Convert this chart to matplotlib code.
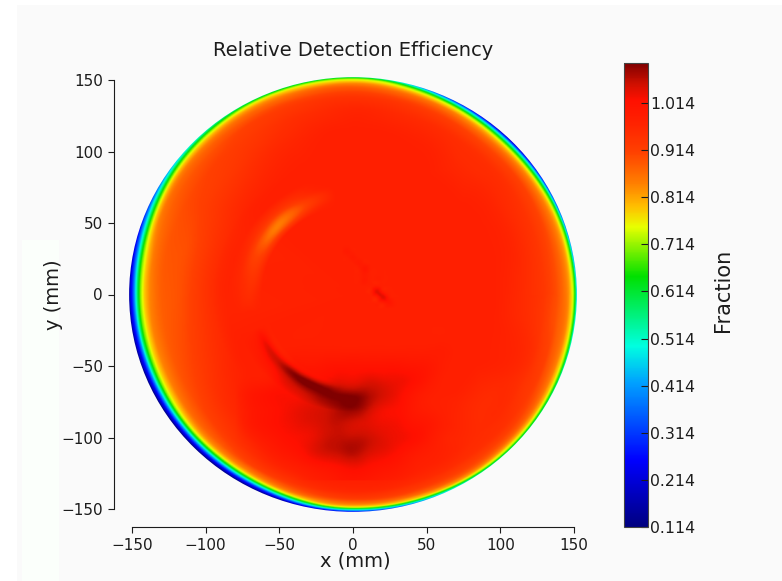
#---------------------------------------------------------------
#  relative detection efficiency map
#---------------------------------------------------------------
import numpy as np
import matplotlib
matplotlib.use("Agg")
import matplotlib.pyplot as plt
import matplotlib.tri as mtri
from matplotlib.cm import ScalarMappable
from matplotlib.colors import LinearSegmentedColormap, Normalize
from matplotlib.patches import Circle, Rectangle

VMIN = 0.114
VMAX = 1.099
BASE = 0.977
RAIO = 152

# rim of the detector: one row each 10 deg, one column per radius
rim_angles = np.arange(0, 370, 10)
rim_radii = [0, 85, 95, 115, 130, 138, 142, 144.5, 146.5, 148, 149.5, 151, 152]
rim_values = [
    [.977, .977, .977, .955, .93, .90, .875, .855, .83, .79, .74, .63, .47],
    [.977, .977, .977, .96, .93, .90, .875, .85, .825, .78, .72, .60, .42],
    [.977, .977, .977, .965, .935, .905, .875, .85, .82, .77, .70, .55, .37],
    [.977, .977, .977, .965, .94, .91, .875, .845, .80, .74, .64, .47, .30],
    [.977, .977, .977, .965, .945, .91, .87, .83, .77, .69, .57, .38, .22],
    [.977, .977, .977, .96, .945, .905, .865, .82, .76, .68, .55, .36, .20],
    [.977, .977, .977, .97, .95, .915, .875, .84, .78, .72, .60, .43, .28],
    [.977, .977, .977, .975, .955, .925, .89, .86, .81, .76, .68, .52, .38],
    [.977, .977, .977, .977, .96, .935, .90, .875, .84, .80, .75, .66, .52],
    [.977, .977, .977, .977, .965, .94, .91, .89, .86, .83, .78, .71, .60],
    [.977, .977, .977, .975, .955, .935, .905, .885, .86, .82, .78, .71, .60],
    [.977, .977, .977, .965, .945, .925, .90, .875, .85, .82, .78, .70, .60],
    [.977, .977, .975, .955, .93, .915, .89, .87, .84, .81, .76, .68, .57],
    [.977, .977, .97, .94, .92, .90, .88, .855, .82, .78, .72, .62, .53],
    [.977, .975, .965, .93, .91, .89, .87, .845, .80, .75, .67, .56, .47],
    [.977, .97, .955, .92, .90, .88, .86, .82, .76, .68, .58, .46, .38],
    [.977, .97, .95, .905, .89, .865, .83, .77, .68, .58, .47, .36, .28],
    [.977, .97, .95, .90, .885, .85, .79, .72, .62, .50, .38, .28, .20],
    [.977, .97, .95, .90, .88, .84, .78, .70, .58, .45, .33, .24, .16],
    [.977, .97, .95, .905, .88, .84, .77, .69, .57, .43, .31, .22, .15],
    [.977, .975, .955, .915, .885, .84, .77, .68, .55, .41, .29, .20, .13],
    [.977, .977, .965, .93, .895, .85, .78, .70, .56, .42, .29, .19, .12],
    [.977, .977, .975, .95, .91, .87, .81, .73, .60, .44, .30, .19, .12],
    [.977, .977, .977, .965, .93, .885, .83, .75, .62, .46, .31, .19, .12],
    [.977, .977, .977, .975, .95, .91, .85, .78, .66, .50, .33, .20, .13],
    [.977, .977, .977, .977, .965, .93, .88, .83, .74, .60, .42, .25, .15],
    [.977, .977, .977, .977, .975, .95, .91, .87, .82, .75, .60, .38, .22],
    [.977, .977, .977, .977, .977, .96, .93, .89, .85, .80, .68, .45, .27],
    [.977, .977, .977, .977, .977, .96, .93, .90, .86, .81, .72, .52, .33],
    [.977, .977, .977, .977, .975, .955, .93, .90, .87, .82, .75, .58, .42],
    [.977, .977, .977, .975, .97, .95, .925, .905, .88, .84, .78, .66, .52],
    [.977, .977, .977, .965, .955, .945, .92, .90, .875, .84, .78, .70, .58],
    [.977, .977, .977, .955, .955, .94, .915, .895, .87, .83, .78, .70, .60],
    [.977, .977, .977, .965, .945, .925, .90, .88, .855, .82, .77, .68, .58],
    [.977, .977, .977, .97, .945, .915, .885, .865, .84, .80, .75, .66, .54],
    [.977, .977, .977, .96, .93, .90, .875, .86, .835, .795, .74, .64, .50],
    [.977, .977, .977, .955, .93, .90, .875, .855, .83, .79, .74, .63, .47],
]

# bright crescent upper left
cres_angles = [100, 110, 120, 130, 140, 150, 160, 170, 180, 190]
cres_radii = [62, 66, 70, 74, 78, 84]
cres_values = [
    [.977, .977, .977, .977, .977, .977],
    [.977, .96, .94, .95, .97, .977],
    [.977, .93, .90, .92, .95, .977],
    [.977, .90, .86, .89, .94, .977],
    [.977, .90, .85, .89, .94, .977],
    [.977, .92, .89, .91, .95, .977],
    [.977, .94, .92, .93, .96, .977],
    [.977, .95, .94, .95, .965, .977],
    [.977, .965, .955, .96, .97, .977],
    [.977, .977, .977, .977, .977, .977],
]

# thin dark arc at the top of the dark zone
arco_angles = [200, 210, 220, 230, 240, 250, 260, 270, 280]
arco_radii = [60, 64, 68, 72, 76, 82]
arco_values = [
    [.977, .977, .977, .977, .977, .977],
    [.977, .985, 1.03, 1.01, .99, .977],
    [.977, .985, 1.045, 1.03, 1.0, .977],
    [.98, .99, 1.06, 1.04, 1.01, .977],
    [.98, .99, 1.06, 1.045, 1.01, .977],
    [.98, .99, 1.05, 1.04, 1.01, .98],
    [.98, .99, 1.02, 1.03, 1.01, .98],
    [.977, .98, .99, 1.0, .99, .977],
    [.977, .977, .977, .977, .977, .977],
]

# dark zone in the lower half, rows from y=-130 up to y=-20
dark_x = np.arange(-80, 80, 10)
dark_y = np.arange(-130, -10, 10)
dark_values = [
    [.977, .977, .977, .977, .977, .985, .99, 1.0, 1.005, 1.0, .99, .985, .977, .977, .977, .977],
    [.977, .977, .98, .985, .99, 1.0, 1.01, 1.02, 1.03, 1.02, 1.01, 1.0, .985, .977, .977, .977],
    [.977, .98, .99, 1.0, 1.01, 1.03, 1.05, 1.06, 1.07, 1.05, 1.035, 1.02, 1.0, .985, .977, .977],
    [.977, .99, 1.0, 1.01, 1.02, 1.03, 1.05, 1.06, 1.06, 1.055, 1.04, 1.03, 1.02, 1.0, .98, .977],
    [.977, 1.0, 1.01, 1.02, 1.03, 1.04, 1.05, 1.06, 1.05, 1.04, 1.03, 1.025, 1.01, 1.0, .985, .977],
    [.977, 1.0, 1.01, 1.02, 1.03, 1.04, 1.05, 1.07, 1.085, 1.06, 1.03, 1.02, 1.0, .985, .977, .977],
    [.977, 1.0, 1.01, 1.02, 1.02, 1.03, 1.04, 1.05, 1.07, 1.07, 1.05, 1.03, 1.005, .985, .977, .977],
    [.977, .98, .985, 1.0, 1.01, 1.02, 1.02, 1.03, 1.03, 1.04, 1.035, 1.03, 1.02, 1.0, .98, .977],
    [.977, .977, .98, .985, 1.0, 1.0, 1.005, 1.01, 1.01, 1.01, 1.01, 1.01, 1.005, 1.0, .985, .977],
    [.977, .977, .977, .98, .985, .985, .985, .985, .985, .985, .985, .985, .985, .985, .985, .977],
    [.977, .977, .977, .977, .977, .977, .977, .977, .977, .977, .977, .977, .977, .977, .977, .977],
    [.977, .977, .977, .977, .977, .977, .977, .977, .977, .977, .977, .977, .977, .977, .977, .977],
]

# diagonal streaks near the centre, rows from y=-10 up to y=38
streak_x = np.arange(-8, 36, 4)
streak_y = np.arange(-10, 42, 4)
streak_values = [
    [.977, .977, .977, .977, .977, .977, .977, .977, .977, .977, .977],
    [.977, .977, .977, .977, .977, .977, .977, .985, 1.0, .985, .977],
    [.977, .977, .977, .977, .977, .977, .985, 1.04, 1.0, .977, .977],
    [.977, .977, .977, .977, .977, .977, 1.04, 1.0, .977, .977, .977],
    [.977, .977, .977, .977, .98, .977, .985, .977, .977, .977, .977],
    [.977, .977, .977, .977, .99, .977, .977, .977, .977, .977, .977],
    [.977, .977, .977, .977, .99, .977, .977, .977, .977, .977, .977],
    [.977, .977, .977, .98, 1.0, .98, .977, .977, .977, .977, .977],
    [.977, .977, .98, .99, .98, .977, .977, .977, .977, .977, .977],
    [.977, .98, .99, .98, .977, .977, .977, .977, .977, .977, .977],
    [.977, .99, .98, .977, .977, .977, .977, .977, .977, .977, .977],
    [.977, .98, .977, .977, .977, .977, .977, .977, .977, .977, .977],
    [.977, .977, .977, .977, .977, .977, .977, .977, .977, .977, .977],
]

xticks = [-150, -100, -50, 0, 50, 100, 150]
yticks = [-150, -100, -50, 0, 50, 100, 150]
cbar_ticks = [0.114, 0.214, 0.314, 0.414, 0.514, 0.614, 0.714, 0.814, 0.914, 1.014]

# colours of the colour bar, as seen in the picture
cor_pos = [0, .144, .31, .39, .54, .647, .69, .74, .81, .876, .92, .955, 1]
cor_hex = ["#000080", "#0000ff", "#00a0ff", "#00ffe0", "#00e000", "#e8ff00", "#ffc000",
           "#ff8000", "#ff4000", "#ff2000", "#ff1000", "#d01000", "#800000"]
cmap = LinearSegmentedColormap.from_list("fraction", list(zip(cor_pos, cor_hex)), N=512)

norm = Normalize(VMIN, VMAX)
W, H = 782.0, 581.0
GREY = "#1c1c1c"


# le uma tabela (linhas em a, colunas em b) nos pontos A, B
def tabela(a, b, valores, A, B):
    ia, ib = np.meshgrid(np.arange(len(a)), np.arange(len(b)), indexing="ij")
    tri = mtri.Triangulation(ia.ravel(), ib.ravel())
    interp = mtri.CubicTriInterpolator(tri, np.array(valores).ravel(), kind="min_E")
    pa = np.interp(A, a, ia[:, 0], left=-1, right=len(a))
    pb = np.interp(B, b, ib[0, :], left=-1, right=len(b))
    return interp(pa, pb).filled(BASE)


# grid of the picture
grade = np.linspace(-RAIO, RAIO, 700)
X, Y = np.meshgrid(grade, grade)
R = np.hypot(X, Y)
A = np.degrees(np.arctan2(Y, X)) % 360

campo = tabela(rim_angles, rim_radii, rim_values, A, np.minimum(R, RAIO))
campo += tabela(cres_angles, cres_radii, cres_values, A, R) - BASE
campo += tabela(arco_angles, arco_radii, arco_values, A, R) - BASE
campo += tabela(dark_y, dark_x, dark_values, Y, X) - BASE
campo += tabela(streak_y, streak_x, streak_values, Y, X) - BASE
campo = np.clip(campo, VMIN, VMAX)

fig = plt.figure(figsize=(7.82, 5.81), dpi=100, facecolor="#fafafa")
fig.patches.append(Rectangle((22 / W, 0), 37 / W, 341 / H, transform=fig.transFigure,
                             facecolor="#fbfffb", edgecolor="none", zorder=-1))
fig.patches.append(Rectangle((0, 0), 17 / W, 1, transform=fig.transFigure,
                             facecolor="#ffffff", edgecolor="none", zorder=-1))
fig.patches.append(Rectangle((0, 1 - 5 / H), 1, 5 / H, transform=fig.transFigure,
                             facecolor="#ffffff", edgecolor="none", zorder=-1))

# 1.473 px/mm in x, 1.43 px/mm in y, centre at (353, 294.5)
ax = fig.add_axes([(353 - 155 * 1.473) / W, 1 - (294.5 + 155 * 1.43) / H,
                   310 * 1.473 / W, 310 * 1.43 / H])
ax.patch.set_alpha(0)
im = ax.imshow(campo, cmap=cmap, norm=norm, origin="lower", aspect="auto",
               extent=[-RAIO, RAIO, -RAIO, RAIO], interpolation="bilinear")
im.set_clip_path(Circle((0, 0), RAIO, transform=ax.transData))
ax.set_xlim(-155, 155)
ax.set_ylim(-155, 155)

for lado in ["top", "right"]:
    ax.spines[lado].set_visible(False)
for lado in ["left", "bottom"]:
    ax.spines[lado].set_position(("outward", 7.8))
    ax.spines[lado].set_bounds(-150, 150)
    ax.spines[lado].set_color(GREY)
ax.set_xticks(xticks)
ax.set_yticks(yticks)
ax.tick_params(labelsize=11, length=4.3, colors=GREY)
ax.set_xlabel("x (mm)", fontsize=14, labelpad=-1, color=GREY)
ax.xaxis.label.set_x(0.505)
ax.set_ylabel("y (mm)", fontsize=14, labelpad=-1, color=GREY)
ax.set_title("Relative Detection Efficiency", fontsize=14, pad=12, color=GREY)

cax = fig.add_axes([623.5 / W, 1 - 527 / H, 24 / W, 464 / H])
cbar = fig.colorbar(ScalarMappable(norm=norm, cmap=cmap), cax=cax)
cbar.set_ticks(cbar_ticks)
cbar.set_ticklabels(["%.3f" % v for v in cbar_ticks])
cbar.ax.tick_params(direction="in", length=5, labelsize=11.3, pad=2, colors=GREY)
cbar.outline.set_edgecolor("#444444")
cbar.set_label("Fraction", fontsize=15, color=GREY)
cbar.ax.yaxis.set_label_coords(3.73, 0.511)

fig.savefig("out.png", dpi=100, facecolor=fig.get_facecolor())
